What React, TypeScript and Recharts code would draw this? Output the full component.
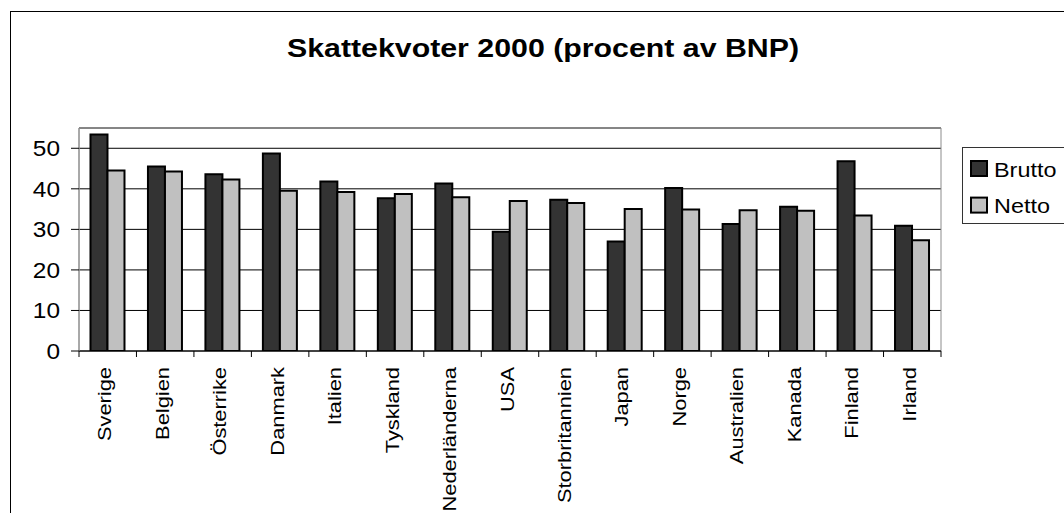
import React from 'react';
import { BarChart, Bar, XAxis, YAxis, CartesianGrid, Legend, ReferenceArea } from 'recharts';

const countries = ['Sverige', 'Belgien', 'Österrike', 'Danmark', 'Italien', 'Tyskland', 'Nederländerna', 'USA', 'Storbritannien', 'Japan', 'Norge', 'Australien', 'Kanada', 'Finland', 'Irland'];
const brutto = [53.4, 45.5, 43.6, 48.7, 41.8, 37.7, 41.3, 29.4, 37.3, 27.0, 40.2, 31.3, 35.6, 46.8, 30.9];
const netto = [44.5, 44.3, 42.3, 39.5, 39.2, 38.7, 37.9, 37.0, 36.5, 35.0, 34.9, 34.7, 34.6, 33.4, 27.3];
const yTicks = [0, 10, 20, 30, 40, 50];
const yMax = 55;
const chartTitle = 'Skattekvoter 2000 (procent av BNP)';
const seriesNames = ['Brutto', 'Netto'];
const seriesColors = ['#333333', '#C0C0C0'];

const data = countries.map((c, i) => ({ name: c, brutto: brutto[i], netto: netto[i] }));

const FONT = '"Liberation Sans", Arial, sans-serif';

const XTick = (props: any) => {
  const { x, y, payload, index, visibleTicksCount, width } = props;
  const off = payload && typeof payload.offset === 'number' && payload.offset > 0 ? payload.offset : width / visibleTicksCount / 2;
  const last = index === visibleTicksCount - 1;
  return (
    <g>
      <line x1={x - off} x2={x - off} y1={y} y2={y + 6} stroke="#000" strokeWidth={1} />
      {last && <line x1={x + off} x2={x + off} y1={y} y2={y + 6} stroke="#000" strokeWidth={1} />}
      <g transform={`translate(${x + 3.5},${y + 16}) rotate(-90) scale(1.15,1)`}>
        <text x={0} y={0} textAnchor="end" fontSize={19} fontFamily={FONT} fill="#000">
          {payload.value}
        </text>
      </g>
    </g>
  );
};

const YTick = (props: any) => {
  const { x, y, payload } = props;
  return (
    <g transform={`translate(${x},${y + 7.8}) scale(1.11,1)`}>
      <text x={0} y={0} textAnchor="end" fontSize={22} fontFamily={FONT} fill="#000">
        {payload.value}
      </text>
    </g>
  );
};

const LegendBox = (props: any) => {
  const items = props.payload && props.payload.length
    ? props.payload.map((p: any, i: number) => ({ name: p.value, color: p.color || seriesColors[i] }))
    : seriesNames.map((n, i) => ({ name: n, color: seriesColors[i] }));
  return (
    <div style={{ width: 120, height: 75, border: '1px solid #333', background: '#fff' }}>
      <svg width={120} height={75} style={{ display: 'block' }}>
        {items.map((it: any, i: number) => (
          <g key={it.name} transform={`translate(0,${i * 36.6})`}>
            <rect x={8} y={13} width={16} height={15} fill={it.color} stroke="#000" strokeWidth={2} />
            <g transform="translate(31,28.7) scale(1.17,1)">
              <text x={0} y={0} fontSize={20} fontFamily={FONT} fill="#000">{it.name}</text>
            </g>
          </g>
        ))}
      </svg>
    </div>
  );
};

export default function App() {
  return (
    <div style={{ position: 'absolute', left: 0, top: 0, width: 1064, height: 513, overflow: 'hidden', background: '#fff', fontFamily: FONT }}>
      <div style={{ position: 'absolute', left: 10, top: 11, width: 1200, height: 700, border: '1px solid #000' }} />
      <div style={{ position: 'absolute', left: 0, top: 0 }}>
        <BarChart
          width={1064}
          height={513}
          data={data}
          margin={{ top: 128, right: 123, bottom: 0, left: 19 }}
          barCategoryGap="20%"
          barGap={0}
        >
          <ReferenceArea y1={0} y2={yMax} fill="none" stroke="#8c8c8c" strokeWidth={1} ifOverflow="visible" />
          <CartesianGrid vertical={false} stroke="#000" strokeWidth={1} />
          <XAxis
            dataKey="name"
            interval={0}
            height={162}
            tickSize={0}
            tickMargin={0}
            tickLine={false}
            axisLine={{ stroke: '#000', strokeWidth: 1 }}
            tick={<XTick />}
          />
          <YAxis
            domain={[0, yMax]}
            ticks={yTicks}
            width={60}
            tickSize={8}
            tickMargin={11}
            allowDataOverflow
            axisLine={{ stroke: '#8c8c8c', strokeWidth: 1 }}
            tickLine={{ stroke: '#000', strokeWidth: 1 }}
            tick={<YTick />}
          />
          <Legend
            layout="vertical"
            align="center"
            verticalAlign="middle"
            content={<LegendBox />}
            wrapperStyle={{ position: 'absolute', left: 962, top: 147, width: 122, height: 77 }}
          />
          <Bar dataKey="brutto" name={seriesNames[0]} fill={seriesColors[0]} stroke="#000" strokeWidth={2} isAnimationActive={false} />
          <Bar dataKey="netto" name={seriesNames[1]} fill={seriesColors[1]} stroke="#000" strokeWidth={2} isAnimationActive={false} />
        </BarChart>
      </div>
      <svg width={1064} height={100} style={{ position: 'absolute', left: 0, top: 0, pointerEvents: 'none' }}>
        <g transform="translate(543,56.7) scale(1.166,1)">
          <text x={0} y={0} textAnchor="middle" fontSize={26} fontWeight="bold" fontFamily={FONT} fill="#000">
            {chartTitle}
          </text>
        </g>
      </svg>
    </div>
  );
}
